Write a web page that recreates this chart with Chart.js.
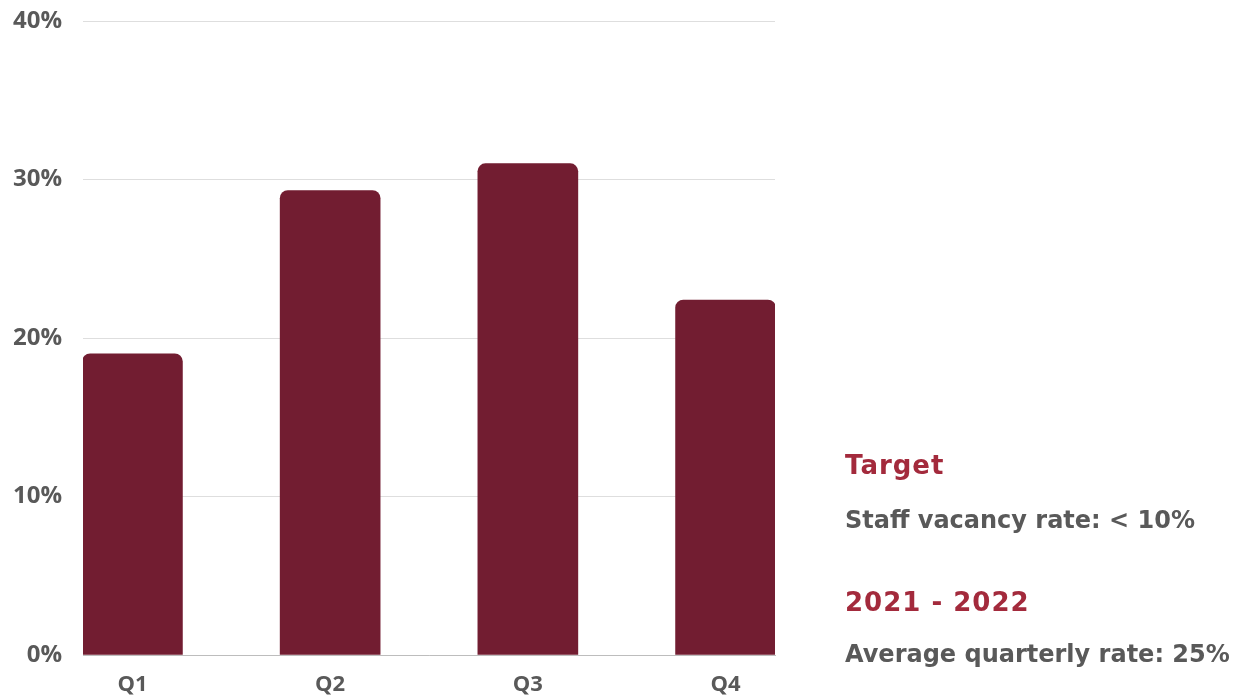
<!DOCTYPE html>
<html>
<head>
<meta charset="utf-8">
<script src="https://cdn.jsdelivr.net/npm/chart.js@4/dist/chart.umd.min.js"></script>
<style>
  html, body { margin: 0; padding: 0; background: #ffffff; }
  #wrap { position: relative; width: 1234px; height: 698px; overflow: hidden; }
  #c { position: absolute; left: 0; top: 0; }
  .t { position: absolute; left: 845px; font-family: "DejaVu Sans", sans-serif; font-weight: bold; line-height: 1; white-space: nowrap; }
  .red { color: #a32a3c; font-size: 26px; letter-spacing: 1px; }
  .gray { color: #595959; font-size: 24px; }
</style>
</head>
<body>
<div id="wrap">
  <canvas id="c" width="1234" height="698"></canvas>
  <div class="t red" style="top:452px">Target</div>
  <div class="t gray" style="top:508px">Staff vacancy rate: &lt; 10%</div>
  <div class="t red" style="top:589px">2021 - 2022</div>
  <div class="t gray" style="top:642px">Average quarterly rate: 25%</div>
</div>
<script>
const categories = ["Q1", "Q2", "Q3", "Q4"];
const vacancyRate = [19.0, 29.3, 31.0, 22.4];
const yTicks = [0, 10, 20, 30, 40];

const points = categories.map((c, i) => ({ x: i, y: vacancyRate[i] }));

new Chart(document.getElementById("c"), {
  type: "bar",
  data: {
    datasets: [{
      data: points,
      backgroundColor: "#721d31",
      borderRadius: { topLeft: 8, topRight: 8, bottomLeft: 0, bottomRight: 0 },
      borderSkipped: "start",
      barThickness: 100
    }]
  },
  options: {
    responsive: false,
    animation: false,
    layout: { padding: { left: 0, right: 459, top: 21, bottom: 0 } },
    plugins: { legend: { display: false }, tooltip: { enabled: false } },
    scales: {
      x: {
        type: "linear",
        offset: false,
        min: -0.25,
        max: 3.25,
        afterBuildTicks: s => { s.ticks = categories.map((c, i) => ({ value: i })); },
        afterFit: s => { s.height = 43; s.paddingLeft = 0; s.paddingRight = 0; },
        grid: { display: false, offset: false },
        border: { display: true, color: "#bdbdbd", width: 1 },
        ticks: {
          callback: v => categories[v],
          color: "#595959",
          font: { family: "'Open Sans'", size: 22, weight: "bold" },
          padding: 9,
          maxRotation: 0
        }
      },
      y: {
        min: 0,
        max: 40,
        afterBuildTicks: s => { s.ticks = yTicks.map(v => ({ value: v })); },
        afterFit: s => { s.width = 83; s.paddingTop = 0; s.paddingBottom = 0; },
        grid: { color: "#dedede", drawTicks: false, lineWidth: 1 },
        border: { display: false },
        ticks: {
          callback: v => v + "%",
          color: "#595959",
          font: { family: "'Open Sans'", size: 24, weight: "bold" },
          padding: 21
        }
      }
    }
  }
});
</script>
</body>
</html>
